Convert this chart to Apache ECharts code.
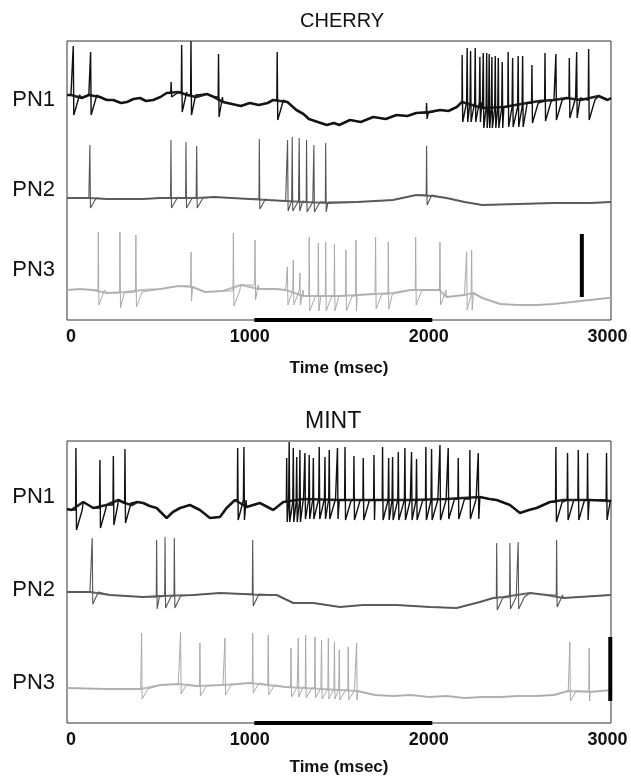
<!DOCTYPE html>
<html>
<head>
<meta charset="utf-8">
<script src="https://cdn.jsdelivr.net/npm/echarts@6/dist/echarts.min.js"></script>
<style>
  html, body { margin: 0; background: #fff; }
  #chart { width: 631px; height: 778px; }
</style>
</head>
<body>
<div id="chart"></div>
<script>
// time in msec; levels in plot units above the floor of each panel
const timeTicks = [0, 1000, 2000, 3000]
const rowNames = ['PN1', 'PN2', 'PN3']
const stimulus = [1025, 2020]

// ---- CHERRY ----
const cherryRowLevels = [220, 130, 50]
const cherryPn1Base = [[-22, 225], [0, 225], [60, 222], [100, 225], [162, 223], [200, 220], [237, 220], [280, 217], [313, 218], [350, 221], [386, 222], [420, 219], [460, 220], [500, 223], [535, 227], [600, 228], [650, 225], [700, 223], [760, 226], [800, 223], [850, 218], [900, 216], [950, 214], [1000, 217], [1050, 215], [1100, 217], [1130, 220], [1210, 218], [1260, 210], [1300, 206], [1330, 201], [1380, 198], [1430, 195], [1470, 197], [1500, 195], [1560, 200], [1620, 198], [1690, 203], [1760, 201], [1820, 205], [1880, 204], [1930, 207], [2000, 208], [2064, 210], [2110, 209], [2157, 213], [2186, 218], [2300, 212], [2420, 213], [2550, 217], [2620, 219], [2700, 220], [2770, 222], [2850, 220], [2950, 224], [3000, 220], [3019, 222]]
const cherryPn1Spikes = [[13, 274], [110, 268], [560, 238, 4], [619, 275], [671, 279], [825, 266], [1153, 268], [1988, 217, 6], [2187, 265], [2215, 272], [2234, 269], [2260, 272], [2286, 263], [2305, 267], [2324, 267], [2338, 266], [2353, 263], [2372, 264], [2389, 262], [2411, 258], [2444, 268], [2469, 262], [2500, 264], [2525, 264], [2577, 255], [2650, 267], [2711, 266], [2786, 262], [2827, 268], [2894, 271]]
const cherryPn2Base = [[-22, 122], [100, 122], [200, 121], [300, 121], [400, 121], [500, 122], [600, 122], [700, 122], [800, 123], [900, 122], [1000, 121], [1100, 120], [1200, 119], [1300, 118], [1440, 117], [1600, 118], [1800, 120], [1930, 125], [2020, 124], [2100, 122], [2200, 118], [2300, 115], [2500, 116], [2700, 117], [2900, 117], [3019, 118]]
const cherryPn2Spikes = [[106, 175], [559, 180], [643, 178], [703, 174], [1053, 181], [1211, 180], [1237, 183], [1276, 182], [1317, 180], [1358, 175], [1424, 177], [1988, 174]]
const cherryPn3Base = [[-22, 30], [50, 31], [120, 30], [200, 27], [300, 28], [400, 30], [500, 31], [600, 34], [680, 33], [750, 28], [850, 29], [950, 35], [1050, 31], [1150, 31], [1200, 30], [1300, 24], [1400, 24], [1500, 24], [1600, 25], [1700, 26], [1800, 27], [1900, 30], [2000, 30], [2060, 30], [2100, 23], [2200, 25], [2250, 27], [2300, 22], [2400, 16], [2500, 15], [2600, 15], [2700, 16], [2800, 18], [2900, 20], [3000, 22], [3019, 22]]
const cherryPn3Spikes = [[153, 88], [274, 88], [363, 85], [671, 68], [908, 87], [1029, 80], [1210, 53], [1243, 60], [1280, 47], [1332, 83], [1383, 77], [1424, 78], [1473, 76], [1537, 70], [1593, 80], [1703, 83], [1774, 78], [1927, 83], [2063, 78], [2212, 68], [2240, 70]]
const cherryDepths = [20, 10, 15]
const cherryScaleBar = [2856, 23, 86]

// ---- MINT ----
const mintRowLevels = [226, 133, 40]
const mintPn1Base = [[-22, 214], [3, 213], [69, 221], [125, 215], [199, 218], [265, 223], [300, 220], [339, 218], [370, 221], [404, 220], [440, 217], [479, 215], [535, 205], [570, 211], [610, 215], [665, 218], [721, 213], [777, 205], [833, 206], [870, 215], [917, 223], [982, 216], [1056, 220], [1131, 213], [1187, 221], [1300, 224], [1500, 223], [1700, 223], [1900, 223], [2100, 224], [2286, 226], [2340, 224], [2380, 223], [2454, 218], [2510, 210], [2560, 213], [2603, 215], [2678, 221], [2752, 223], [2900, 223], [3019, 222]]
const mintPn1Spikes = [[28, 275], [162, 263], [237, 267], [302, 274], [932, 275], [967, 276], [1206, 265], [1220, 281], [1243, 275], [1262, 266], [1280, 273], [1308, 270], [1332, 268], [1355, 265], [1388, 276], [1420, 266], [1444, 273], [1490, 275], [1532, 276], [1582, 267], [1634, 265], [1694, 268], [1742, 276], [1776, 265], [1798, 266], [1830, 271], [1867, 275], [1904, 271], [1932, 264], [1984, 276], [2016, 274], [2063, 278], [2109, 275], [2165, 265], [2230, 273], [2277, 270], [2711, 276], [2776, 270], [2836, 273], [2888, 270], [2994, 270]]
const mintPn2Base = [[-22, 131], [3, 131], [106, 131], [218, 128], [404, 126], [497, 127], [684, 128], [833, 130], [964, 129], [1056, 128], [1150, 128], [1243, 120], [1355, 120], [1504, 116], [1634, 118], [1820, 118], [2007, 116], [2156, 115], [2286, 121], [2361, 125], [2417, 126], [2566, 130], [2659, 128], [2752, 125], [3019, 128]]
const mintPn2Spikes = [[119, 185], [479, 183], [526, 186], [578, 185], [1016, 183], [2380, 180], [2454, 180], [2500, 181], [2715, 183]]
const mintPn3Base = [[-22, 35], [200, 34], [390, 34], [500, 38], [600, 39], [700, 37], [850, 38], [1000, 40], [1100, 38], [1200, 36], [1300, 35], [1400, 34], [1500, 33], [1600, 32], [1700, 28], [1800, 27], [1900, 28], [2000, 26], [2100, 27], [2200, 25], [2300, 26], [2400, 26], [2500, 27], [2600, 27], [2700, 28], [2780, 32], [2900, 31], [3019, 33]]
const mintPn3Spikes = [[395, 90], [613, 91], [721, 80], [861, 85], [1016, 90], [1103, 88], [1230, 75], [1271, 85], [1312, 88], [1364, 86], [1401, 83], [1439, 85], [1473, 81], [1500, 73], [1550, 76], [1597, 80], [2789, 81], [2897, 75]]
const mintDepths = [20, 12, 10]
const mintScaleBar = [3015, 22, 86]

const font = "'Liberation Sans', Arial, sans-serif"
const traceColors = ['#111', '#555', '#aaa']
const traceWidths = [1.4, 1.1, 1]
const bandColors = ['#222', '#666', '#bbb']
const bandWidths = [2.6, 2, 2.2]

// merge resting level and spikes into one trace: rise, peak, undershoot, recovery
function buildTrace (base, spikes, depth) {
  const events = base.map(p => ({ t: p[0], base: p }))
    .concat(spikes.map(s => ({ t: s[0], spike: s })))
    .sort((a, b) => a.t - b.t)
  const out = []
  let level = base[0][1]
  events.forEach((e, j) => {
    if (e.base) {
      level = e.base[1]
      out.push(e.base)
      return
    }
    const s = e.spike
    const d = s[2] !== undefined ? s[2] : depth
    const next = events[j + 1]
    const back = next ? Math.min(s[0] + 35, next.t - 3) : s[0] + 35
    out.push([s[0] - 2, level], [s[0], s[1]], [s[0] + 3, level - d])
    if (back > s[0] + 8) out.push([back, level])
  })
  return out
}

const panels = [
  {
    title: 'CHERRY', titleLeft: 300, titleTop: 11, titleSize: 20,
    top: 41, height: 279, nameGap: 40,
    rows: cherryRowLevels,
    traces: [[cherryPn1Base, cherryPn1Spikes], [cherryPn2Base, cherryPn2Spikes], [cherryPn3Base, cherryPn3Spikes]],
    depths: cherryDepths,
    scaleBar: cherryScaleBar
  },
  {
    title: 'MINT', titleLeft: 305, titleTop: 410, titleSize: 23,
    top: 441, height: 282, nameGap: 36,
    rows: mintRowLevels,
    traces: [[mintPn1Base, mintPn1Spikes], [mintPn2Base, mintPn2Spikes], [mintPn3Base, mintPn3Spikes]],
    depths: mintDepths,
    scaleBar: mintScaleBar
  }
]

const option = {
  animation: false,
  backgroundColor: '#fff',
  title: [],
  grid: [],
  xAxis: [],
  yAxis: [],
  series: []
}

panels.forEach((p, i) => {
  option.title.push({
    text: p.title,
    left: p.titleLeft,
    top: p.titleTop,
    padding: 0,
    textStyle: { fontFamily: font, fontSize: p.titleSize, fontWeight: 'normal', color: '#111' }
  })
  option.grid.push({
    left: 67, width: 544, top: p.top, height: p.height,
    show: true, borderColor: '#333', borderWidth: 1
  })
  option.xAxis.push({
    gridIndex: i,
    type: 'value',
    min: -22,
    max: 3019,
    axisLine: { show: false },
    axisTick: { show: false },
    splitLine: { show: false },
    axisLabel: {
      customValues: timeTicks,
      formatter: v => String(v),
      margin: 8,
      fontFamily: font,
      fontSize: 18,
      fontWeight: 'bold',
      color: '#111'
    },
    name: 'Time (msec)',
    nameLocation: 'middle',
    nameGap: p.nameGap,
    nameTextStyle: { fontFamily: font, fontSize: 17, fontWeight: 'bold', color: '#111' }
  })
  option.yAxis.push({
    gridIndex: i,
    type: 'value',
    min: 0,
    max: p.height,
    axisLine: { show: false },
    axisTick: { show: false },
    splitLine: { show: false },
    axisLabel: {
      customValues: p.rows,
      formatter: v => rowNames[p.rows.indexOf(v)],
      margin: 12,
      fontFamily: font,
      fontSize: 22,
      color: '#111'
    }
  })
  p.traces.forEach((tr, k) => {
    // thicker resting band under the trace, for the recording noise
    option.series.push({
      type: 'line',
      xAxisIndex: i,
      yAxisIndex: i,
      data: tr[0],
      symbol: 'none',
      lineStyle: { color: bandColors[k], width: bandWidths[k] },
      z: 2
    })
    option.series.push({
      type: 'line',
      xAxisIndex: i,
      yAxisIndex: i,
      data: buildTrace(tr[0], tr[1], p.depths[k]),
      symbol: 'none',
      clip: false,
      lineStyle: { color: traceColors[k], width: traceWidths[k] },
      z: 3
    })
  })
  // vertical scale bar
  option.series.push({
    type: 'line',
    xAxisIndex: i,
    yAxisIndex: i,
    data: [[p.scaleBar[0], p.scaleBar[1]], [p.scaleBar[0], p.scaleBar[2]]],
    symbol: 'none',
    clip: false,
    lineStyle: { color: '#000', width: 4, cap: 'butt' },
    z: 5
  })
  // stimulus bar on the bottom border
  option.series.push({
    type: 'line',
    xAxisIndex: i,
    yAxisIndex: i,
    data: [[stimulus[0], 0], [stimulus[1], 0]],
    symbol: 'none',
    clip: false,
    lineStyle: { color: '#000', width: 4, cap: 'butt' },
    z: 5
  })
})

const chart = echarts.init(document.getElementById('chart'))
chart.setOption(option)
</script>
</body>
</html>
